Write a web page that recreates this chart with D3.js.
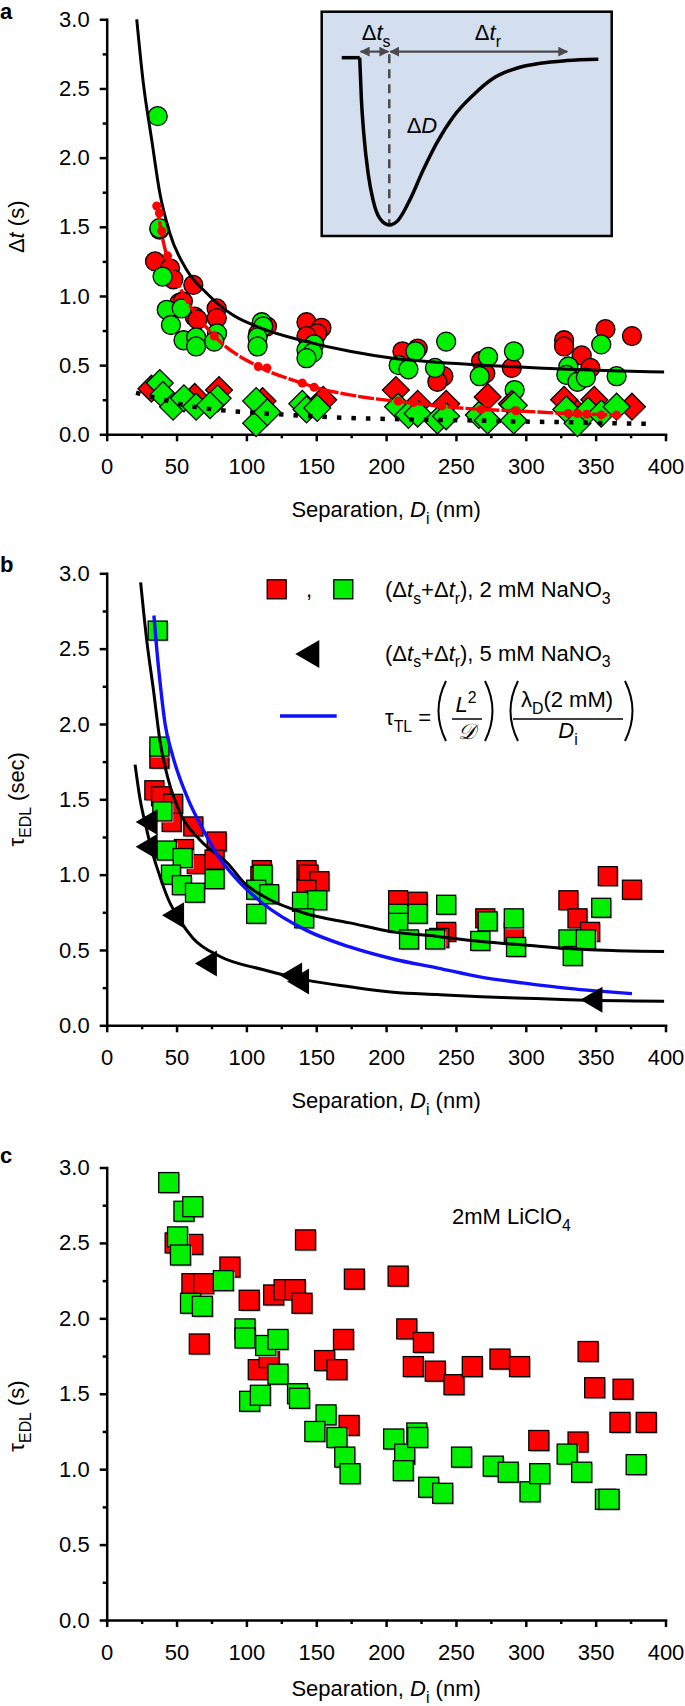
<!DOCTYPE html>
<html>
<head>
<meta charset="utf-8">
<script src="https://cdn.jsdelivr.net/npm/d3@7"></script>
<style>
  body { margin: 0; background: #fff; }
  svg { display: block; font-family: "Liberation Sans", Arial, Helvetica, sans-serif; }
</style>
</head>
<body>
<svg id="chart" width="685" height="1706"></svg>
<script>
// ---- data ----
const xTicks = [0, 50, 100, 150, 200, 250, 300, 350, 400];
const xMinor = [25, 75, 125, 175, 225, 275, 325, 375];
const yTicks = [0, 0.5, 1.0, 1.5, 2.0, 2.5, 3.0];
const yMinor = [0.25, 0.75, 1.25, 1.75, 2.25, 2.75];

// panel a
const aRedCircles = [[34.6,1.25],[37.8,1.48],[45.3,1.20],[47.7,1.12],[52,0.95],[54.5,0.96],[62,1.08],[63,0.85],[65,0.83],
  [78.7,0.91],[78.8,0.84],[108.5,0.73],[114.7,0.78],[143,0.81],[153.7,0.77],[150.7,0.73],[143,0.71],[211.7,0.60],
  [222.6,0.62],[241,0.42],[236.7,0.38],[268,0.53],[271,0.44],[290,0.48],[327.4,0.68],[327.4,0.635],[340,0.57],
  [346.2,0.48],[357,0.76],[376,0.71]];
const aGreenCircles = [[36.5,2.30],[37.7,1.49],[40,1.14],[43,0.90],[46,0.79],[53.7,0.91],[55,0.68],[64,0.70],[64,0.635],
  [79,0.73],[77,0.67],[111,0.81],[112,0.78],[108,0.70],[108,0.635],[148.5,0.65],[143,0.61],[147.5,0.59],[143,0.55],
  [221,0.60],[209,0.50],[216,0.47],[235,0.48],[243,0.67],[273,0.56],[267,0.42],[291.5,0.60],[292,0.32],[330.5,0.49],
  [329,0.43],[337,0.38],[343,0.41],[354,0.65],[365,0.42]];
const aRedDiamonds = [[32,0.33],[63,0.27],[80.4,0.32],[111.6,0.24],[155,0.25],[207,0.32],[222.6,0.22],[243,0.22],
  [272.7,0.27],[290,0.22],[327.4,0.25],[337,0.15],[349,0.25],[376,0.20]];
const aGreenDiamonds = [[38,0.37],[40.3,0.285],[47.5,0.20],[55.3,0.26],[64,0.20],[79.4,0.26],[74,0.21],[107,0.24],
  [107,0.08],[115,0.16],[140,0.22],[143,0.18],[150.7,0.19],[208.6,0.20],[216,0.14],[222.6,0.15],[236.7,0.10],
  [243,0.13],[266.4,0.14],[272.7,0.10],[291.4,0.21],[291.4,0.10],[329,0.18],[337,0.08],[344.6,0.17],[354,0.15],[365,0.20]];
const aBlackFit = [[21.5,3.0],[26.2,2.54],[32.2,2.13],[38.1,1.74],[45.3,1.45],[57.2,1.19],[71.6,1.02],[90.6,0.86],
  [110,0.77],[143,0.67],[174,0.60],[205,0.55],[237,0.52],[268,0.50],[299,0.485],[330,0.47],[362,0.46],[399,0.45]];
const aRedFit = [[35.8,1.67],[39,1.47],[42.7,1.30],[49.9,1.12],[57,0.97],[61.6,0.90],[77,0.71],[108.5,0.49],[140,0.37],
  [149,0.34],[174,0.285],[208.6,0.237],[237,0.205],[268,0.18],[292,0.17],[330.5,0.15],[365,0.14]];
const aRedDots = [[35.8,1.65],[37.7,1.60],[39.4,1.47],[43.6,1.29],[77,0.71],[108.5,0.49],[114.7,0.48],[140,0.37],
  [148.5,0.34],[208.6,0.24],[219.5,0.23],[240,0.205],[268,0.18],[293,0.17],[330.5,0.15],[337,0.15],[343.6,0.145],
  [354,0.14],[365,0.14]];
const aDottedFit = [[21,0.30],[36.6,0.26],[58.5,0.205],[80.4,0.176],[111.6,0.152],[143,0.133],[174,0.118],[205,0.11],
  [237,0.104],[268,0.099],[299,0.092],[330.5,0.087],[362,0.08],[391.5,0.075]];

// inset schematic (fractions of the inset box)
const insetFlat = [[0.069,0.205],[0.131,0.205]];
const insetCurve = [[0.131,0.205],[0.137,0.394],[0.145,0.542],[0.160,0.720],[0.177,0.839],[0.200,0.921],
  [0.233,0.951],[0.264,0.929],[0.304,0.839],[0.350,0.706],[0.396,0.587],[0.454,0.468],[0.523,0.371],[0.592,0.297],
  [0.672,0.252],[0.753,0.230],[0.845,0.218],[0.954,0.212]];

// panel b
const bRedSquares = [[34.1,1.56],[37.7,1.77],[38.9,1.52],[46.5,1.35],[47.5,1.47],[62,1.32],[78.7,1.22],[64.5,1.07],
  [55.3,1.17],[77.2,1.10],[111,1.03],[110,0.99],[143,1.03],[144.5,1.0],[152.3,0.956],[143,0.90],[149,0.83],[208.6,0.83],
  [222.6,0.82],[243,0.62],[238,0.58],[271,0.71],[291.4,0.62],[330.5,0.83],[337,0.71],[346,0.62],[358.7,0.99],[376,0.90]];
const bGreenSquares = [[36.5,2.62],[37.7,1.85],[39.8,1.42],[43,1.16],[54.4,1.11],[46,1.0],[53.8,0.93],[63.2,0.88],
  [77.2,0.97],[111.6,1.0],[107,0.90],[116.3,0.87],[107,0.74],[139.8,0.82],[150.7,0.83],[141.3,0.71],[208.6,0.74],
  [208.6,0.68],[222.6,0.74],[216.4,0.57],[235.1,0.57],[243,0.80],[267.4,0.56],[272.7,0.69],[291.4,0.71],[293,0.52],
  [330.5,0.57],[333.6,0.46],[343,0.57],[354,0.78]];
const bTriangles = [[28.6,1.35],[28.6,1.185],[47.5,0.73],[71,0.41],[132,0.33],[137,0.29],[347,0.17]];
const bFit2mM = [[24.3,2.94],[28.6,2.56],[33.4,2.23],[38.1,1.89],[44.1,1.63],[52.5,1.41],[66.8,1.23],[87,1.07],[99,0.94],
  [111.6,0.86],[143,0.74],[174,0.68],[205,0.62],[237,0.59],[268,0.556],[299,0.533],[330.5,0.51],[362,0.496],[399,0.49]];
const bFit5mM = [[20.3,1.73],[23.9,1.50],[28.6,1.30],[32,1.17],[36.6,1.03],[44.4,0.83],[52.2,0.70],[61.6,0.58],[80.4,0.46],
  [111.6,0.37],[143,0.30],[174,0.256],[205,0.22],[237,0.204],[268,0.19],[299,0.18],[330.5,0.17],[399,0.16]];
const bTauTL = [[33.8,2.72],[35.8,2.50],[38.5,2.25],[41.8,2.0],[47.5,1.78],[58.3,1.5],[69,1.30],[80,1.12],[93,0.97],
  [111.6,0.81],[143,0.63],[174,0.52],[205,0.44],[237,0.38],[268,0.32],[299,0.28],[330.5,0.245],[376,0.21]];

// panel c
const cRedSquares = [[49,2.50],[61.6,2.49],[88.2,2.34],[61,2.23],[69.4,2.23],[102,2.12],[119.5,2.155],[127,2.19],[135,2.19],
  [139.8,2.10],[142.3,2.52],[177.3,2.26],[208.6,2.28],[66.3,1.83],[214.8,1.93],[226.7,1.84],[169.5,1.86],[156,1.72],
  [164.8,1.66],[108.5,1.66],[116.3,1.74],[173.5,1.29],[219.5,1.68],[235.2,1.65],[248.6,1.56],[261.7,1.68],[281.5,1.73],
  [295.5,1.68],[309.3,1.19],[337.4,1.18],[344.6,1.78],[349.3,1.54],[369.6,1.53],[367.4,1.31],[386.2,1.31]];
const cGreenSquares = [[44.4,2.90],[55.3,2.71],[61.6,2.74],[50.7,2.54],[52.8,2.42],[83.5,2.25],[60,2.10],[68.5,2.08],
  [99,1.93],[99,1.87],[113.8,1.82],[122.6,1.86],[122.6,1.63],[102.3,1.45],[110,1.49],[136.6,1.50],[138,1.47],[157,1.36],
  [149,1.25],[164.8,1.21],[170.4,1.08],[174.2,0.97],[205.4,1.20],[213.3,1.10],[212.3,0.99],[222,1.24],[222.6,1.21],
  [230.5,0.88],[240.5,0.84],[254,1.08],[276.7,1.02],[287.4,0.98],[303,0.85],[310,0.97],[329.6,1.10],[340,0.98],
  [357,0.80],[359.6,0.80],[379,1.03]];

// ---- drawing ----
const RED = "#ff0000", GREEN = "#00f000", BLUE = "#1010ff";
const FS = 22;
const svg = d3.select("#chart");
svg.append("rect").attr("width", 685).attr("height", 1706).attr("fill", "#fff");

const x = d3.scaleLinear().domain([0, 400]).range([106.7, 665.5]);
const yA = d3.scaleLinear().domain([0, 3]).range([434.3, 19.3]);
const yB = d3.scaleLinear().domain([0, 3]).range([1025.3, 573.3]);
const yC = d3.scaleLinear().domain([0, 3]).range([1620, 1167.5]);

// text with italic / sub / sup parts
function rich(sel, parts, fs) {
  let shift = 0;
  parts.forEach(([txt, kind]) => {
    kind = kind || "";
    const ts = sel.append("tspan").text(txt);
    let target = 0, size = fs;
    if (kind.includes("sub")) { target = fs * 0.3; size = fs * 0.72; }
    if (kind.includes("sup")) { target = -fs * 0.42; size = fs * 0.72; }
    if (kind.includes("i")) ts.attr("font-style", "italic");
    ts.attr("font-size", size).attr("dy", target - shift);
    shift = target;
  });
  return sel;
}

function axes(y, letter, letterY, yTitle, yTitleCy, xTitleDy) {
  const g = svg.append("g");
  g.append("g").attr("transform", `translate(0,${y(0)})`)
    .call(d3.axisBottom(x).tickValues(xTicks).tickSize(7).tickSizeOuter(0).tickPadding(17).tickFormat(d3.format("d")));
  g.append("g").attr("transform", `translate(0,${y(0)})`)
    .call(d3.axisBottom(x).tickValues(xMinor).tickSize(4).tickFormat(""))
    .select(".domain").remove();
  g.append("g").attr("transform", `translate(${x(0)},0)`)
    .call(d3.axisLeft(y).tickValues(yTicks).tickSize(7).tickSizeOuter(0).tickPadding(10).tickFormat(d3.format(".1f")));
  g.append("g").attr("transform", `translate(${x(0)},0)`)
    .call(d3.axisLeft(y).tickValues(yMinor).tickSize(4).tickFormat(""))
    .select(".domain").remove();
  g.selectAll(".domain").attr("stroke-width", 2.5).attr("stroke-linecap", "square");
  g.selectAll(".tick line").attr("stroke-width", 2.5);
  g.selectAll(".tick text").attr("font-size", FS).attr("font-family", null).attr("fill", "#000");

  const xt = g.append("text").attr("x", x(200)).attr("y", y(0) + xTitleDy).attr("text-anchor", "middle");
  rich(xt, [["Separation, "], ["D", "i"], ["i", "sub"], [" (nm)"]], FS);

  const yt = g.append("text").attr("transform", `translate(24,${yTitleCy}) rotate(-90)`).attr("text-anchor", "middle");
  rich(yt, yTitle, FS);

  g.append("text").attr("x", 0).attr("y", letterY).attr("font-weight", "bold").attr("font-size", 22).text(letter);
}

const line = y => d3.line().x(d => x(d[0])).y(d => y(d[1])).curve(d3.curveMonotoneX);

function circles(data, y, fill) {
  svg.append("g").selectAll("circle").data(data).join("circle")
    .attr("cx", d => x(d[0])).attr("cy", d => y(d[1])).attr("r", 9.5)
    .attr("fill", fill).attr("stroke", "#000").attr("stroke-width", 1.3);
}
function diamonds(data, y, fill) {
  svg.append("g").selectAll("path").data(data).join("path")
    .attr("d", d3.symbol(d3.symbolSquare, 360))
    .attr("transform", d => `translate(${x(d[0])},${y(d[1])}) rotate(45)`)
    .attr("fill", fill).attr("stroke", "#000").attr("stroke-width", 1.3);
}
function squares(data, y, fill, s) {
  const g = svg.append("g");
  g.selectAll("rect.sh").data(data).join("rect").attr("class", "sh")
    .attr("x", d => x(d[0]) - s / 2 + 1.5).attr("y", d => y(d[1]) - s / 2 + 1.5)
    .attr("width", s).attr("height", s).attr("fill", "#bbb");
  g.selectAll("rect.sq").data(data).join("rect").attr("class", "sq")
    .attr("x", d => x(d[0]) - s / 2).attr("y", d => y(d[1]) - s / 2)
    .attr("width", s).attr("height", s)
    .attr("fill", fill).attr("stroke", "#000").attr("stroke-width", 1.3);
}
function leftTri(cx, cy, w, h) {
  return `M${cx - w / 2},${cy} L${cx + w / 2},${cy - h / 2} L${cx + w / 2},${cy + h / 2} Z`;
}

// ===== panel a =====
axes(yA, "a", 19, [["Δ"], ["t", "i"], [" (s)"]], yA(1.5), 83);
circles(aRedCircles, yA, RED);
circles(aGreenCircles, yA, GREEN);
diamonds(aRedDiamonds, yA, RED);
diamonds(aGreenDiamonds, yA, GREEN);
svg.append("path").datum(aBlackFit).attr("d", line(yA)).attr("fill", "none").attr("stroke", "#000").attr("stroke-width", 3);
svg.append("path").datum(aRedFit).attr("d", line(yA)).attr("fill", "none").attr("stroke", RED)
  .attr("stroke-width", 3.4).attr("stroke-dasharray", "16,2");
svg.append("g").selectAll("circle").data(aRedDots).join("circle")
  .attr("cx", d => x(d[0])).attr("cy", d => yA(d[1])).attr("r", 4.5).attr("fill", RED);
svg.append("path").datum(aDottedFit).attr("d", line(yA)).attr("fill", "none").attr("stroke", "#000")
  .attr("stroke-width", 4.5).attr("stroke-dasharray", "4.5,10");

// inset
const ix = d3.scaleLinear().domain([0, 1]).range([321.7, 611.7]);
const iy = d3.scaleLinear().domain([0, 1]).range([11.7, 236]);
const inset = svg.append("g");
inset.append("rect").attr("x", ix(0)).attr("y", iy(0)).attr("width", ix(1) - ix(0)).attr("height", iy(1) - iy(0))
  .attr("fill", "#d3deee").attr("stroke", "#000").attr("stroke-width", 2.5);
const defs = svg.append("defs");
defs.append("marker").attr("id", "arr").attr("viewBox", "0 0 10 10").attr("refX", 9).attr("refY", 5)
  .attr("markerWidth", 4.5).attr("markerHeight", 4.5).attr("orient", "auto-start-reverse")
  .append("path").attr("d", "M0,0 L10,5 L0,10 Z").attr("fill", "#4a4a4a");
inset.append("line").attr("x1", ix(0.233)).attr("x2", ix(0.233)).attr("y1", iy(0.19)).attr("y2", iy(0.95))
  .attr("stroke", "#4a4a4a").attr("stroke-width", 2.5).attr("stroke-dasharray", "9,6");
[[0.131, 0.233], [0.233, 0.85]].forEach(([a, b]) => {
  inset.append("line").attr("x1", ix(a) + 1).attr("x2", ix(b) - 1).attr("y1", iy(0.178)).attr("y2", iy(0.178))
    .attr("stroke", "#4a4a4a").attr("stroke-width", 2.2)
    .attr("marker-start", "url(#arr)").attr("marker-end", "url(#arr)");
});
const iline = d3.line().x(d => ix(d[0])).y(d => iy(d[1]));
inset.append("path").datum(insetFlat).attr("d", iline)
  .attr("fill", "none").attr("stroke", "#000").attr("stroke-width", 3.5);
inset.append("path").datum(insetCurve).attr("d", iline.curve(d3.curveMonotoneX))
  .attr("fill", "none").attr("stroke", "#000").attr("stroke-width", 3.5).attr("stroke-linejoin", "round");
rich(inset.append("text").attr("x", ix(0.138)).attr("y", iy(0.126)), [["Δ"], ["t", "i"], ["s", "sub"]], FS);
rich(inset.append("text").attr("x", ix(0.573)).attr("y", iy(0.126)).attr("text-anchor", "middle"), [["Δ"], ["t", "i"], ["r", "sub"]], FS);
rich(inset.append("text").attr("x", ix(0.293)).attr("y", iy(0.542)), [["Δ"], ["D", "i"]], FS);

// ===== panel b =====
axes(yB, "b", 572, [["τ"], ["EDL", "sub"], [" (sec)"]], yB(1.5), 83);
squares(bRedSquares, yB, RED, 19);
squares(bGreenSquares, yB, GREEN, 19);
svg.append("path").datum(bFit2mM).attr("d", line(yB)).attr("fill", "none").attr("stroke", "#000").attr("stroke-width", 3);
svg.append("path").datum(bFit5mM).attr("d", line(yB)).attr("fill", "none").attr("stroke", "#000").attr("stroke-width", 3);
svg.append("path").datum(bTauTL).attr("d", line(yB)).attr("fill", "none").attr("stroke", BLUE).attr("stroke-width", 3.4);
svg.append("g").selectAll("path").data(bTriangles).join("path")
  .attr("d", d => leftTri(x(d[0]), yB(d[1]), 22, 26)).attr("fill", "#000");

// legend b
const lg = svg.append("g");
lg.append("rect").attr("x", 267.2).attr("y", 579.8).attr("width", 19).attr("height", 19).attr("fill", RED)
  .attr("stroke", "#000").attr("stroke-width", 1.3);
lg.append("text").attr("x", 306).attr("y", 597).attr("font-size", FS).text(",");
lg.append("rect").attr("x", 333.8).attr("y", 579.8).attr("width", 19).attr("height", 19).attr("fill", GREEN)
  .attr("stroke", "#000").attr("stroke-width", 1.3);
rich(lg.append("text").attr("x", 385).attr("y", 597),
  [["(Δ"], ["t", "i"], ["s", "sub"], ["+Δ"], ["t", "i"], ["r", "sub"], ["), 2 mM NaNO"], ["3", "sub"]], FS);
lg.append("path").attr("d", leftTri(307.3, 654, 24, 28)).attr("fill", "#000");
rich(lg.append("text").attr("x", 385).attr("y", 660.5),
  [["(Δ"], ["t", "i"], ["s", "sub"], ["+Δ"], ["t", "i"], ["r", "sub"], ["), 5 mM NaNO"], ["3", "sub"]], FS);
lg.append("line").attr("x1", 280).attr("x2", 336.7).attr("y1", 716).attr("y2", 716).attr("stroke", BLUE).attr("stroke-width", 3.4);
// formula
rich(lg.append("text").attr("x", 385).attr("y", 725), [["τ"], ["TL", "sub"], [" ="]], FS);
const paren = (px, left) => {
  const d = left ? `M${px + 9},681 Q${px - 6},711 ${px + 9},741` : `M${px - 9},681 Q${px + 6},711 ${px - 9},741`;
  lg.append("path").attr("d", d).attr("fill", "none").attr("stroke", "#000").attr("stroke-width", 2);
};
paren(437, true); paren(494, false); paren(509, true); paren(634, false);
rich(lg.append("text").attr("x", 466).attr("y", 712).attr("text-anchor", "middle"), [["L", "i"], ["2", "sup"]], FS);
lg.append("line").attr("x1", 452).attr("x2", 482).attr("y1", 719).attr("y2", 719).attr("stroke", "#000").attr("stroke-width", 1.5);
lg.append("text").attr("x", 467).attr("y", 739).attr("text-anchor", "middle").attr("font-size", FS)
  .attr("font-style", "italic").attr("font-family", "DejaVu Serif, serif").text("𝒟");
rich(lg.append("text").attr("x", 567).attr("y", 707).attr("text-anchor", "middle"), [["λ"], ["D", "sub"], ["(2 mM)"]], FS);
lg.append("line").attr("x1", 513).attr("x2", 623).attr("y1", 719).attr("y2", 719).attr("stroke", "#000").attr("stroke-width", 1.5);
rich(lg.append("text").attr("x", 568).attr("y", 738).attr("text-anchor", "middle"), [["D", "i"], ["i", "sub"]], FS);

// ===== panel c =====
axes(yC, "c", 1163, [["τ"], ["EDL", "sub"], [" (s)"]], 1416, 76);
squares(cRedSquares, yC, RED, 20);
squares(cGreenSquares, yC, GREEN, 20);
rich(svg.append("text").attr("x", 452).attr("y", 1224), [["2mM LiClO"], ["4", "sub"]], FS);
</script>
</body>
</html>
